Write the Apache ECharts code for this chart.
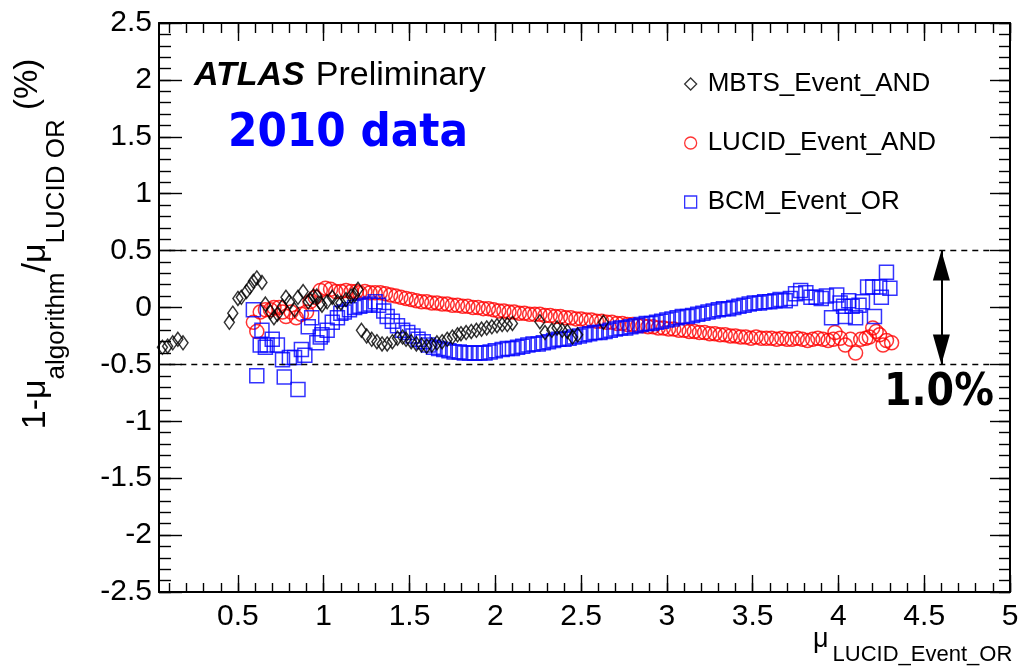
<!DOCTYPE html>
<html><head><meta charset="utf-8">
<script src="https://cdn.jsdelivr.net/npm/echarts@6/dist/echarts.min.js"></script>
<style>html,body{margin:0;padding:0;background:#fff}#c{width:1022px;height:667px}</style>
</head><body><div id="c"></div>
<script>
// ---------- axis ticks ----------
const xMajorTicks = [0.5,1,1.5,2,2.5,3,3.5,4,4.5,5];
const xMinorTicks = [0.1,0.2,0.3,0.4,0.5,0.6,0.7,0.8,0.9,1.0,1.1,1.2,1.3,1.4,1.5,1.6,1.7,1.8,1.9,2.0,2.1,2.2,2.3,2.4,2.5,2.6,2.7,2.8,2.9,3.0,3.1,3.2,3.3,3.4,3.5,3.6,3.7,3.8,3.9,4.0,4.1,4.2,4.3,4.4,4.5,4.6,4.7,4.8,4.9,5.0];
const yMajorTicks = [-2.5,-2,-1.5,-1,-0.5,0,0.5,1,1.5,2,2.5];
const yMinorTicks = [-2.5,-2.4,-2.3,-2.2,-2.1,-2.0,-1.9,-1.8,-1.7,-1.6,-1.5,-1.4,-1.3,-1.2,-1.1,-1.0,-0.9,-0.8,-0.7,-0.6,-0.5,-0.4,-0.3,-0.2,-0.1,0,0.1,0.2,0.3,0.4,0.5,0.6,0.7,0.8,0.9,1.0,1.1,1.2,1.3,1.4,1.5,1.6,1.7,1.8,1.9,2.0,2.1,2.2,2.3,2.4,2.5];
const xRange = [0.04, 5];
const yRange = [-2.5, 2.5];
const bandLevels = [0.5, -0.5];
const bandSpan = [0.1, 4.88];
const arrowX = 4.6;

// ---------- series ----------
const seriesNames = ['MBTS_Event_AND','LUCID_Event_AND','BCM_Event_OR'];

const mbtsX = [0.06,0.09,0.12,0.15,0.18,
  0.45,0.47,0.50,0.52,0.55,0.57,0.59,0.61,0.64,
  0.66,0.69,0.71,0.73,0.76,0.78,0.80,0.83,0.85,0.88,0.91,0.92,0.94,0.96,0.98,0.99,1.02,1.05,1.08,1.10,1.13,1.16,1.18,1.20,
  1.22,1.25,1.28,1.31,1.34,1.37,1.40,1.43,1.46,1.48,1.51,1.54,1.57,1.60,1.63,1.66,1.69,1.72,1.75,1.78,1.80,1.83,1.86,1.89,1.92,1.95,1.98,2.01,2.04,2.07,2.10,
  2.26,2.29,2.33,2.36,2.39,2.42,2.45,2.48,2.63];
const mbtsY = [-0.35,-0.34,-0.31,-0.28,-0.31,
  -0.13,-0.05,0.08,0.09,0.14,0.18,0.23,0.26,0.22,
  0.03,-0.04,-0.09,-0.06,0.01,0.09,0.05,-0.02,0.09,0.14,0.05,0.07,0.10,0.10,0.04,0.02,0.05,0.09,0.05,0.04,0.07,0.10,0.11,0.16,
  -0.20,-0.25,-0.28,-0.30,-0.32,-0.32,-0.30,-0.27,-0.26,-0.28,-0.30,-0.32,-0.33,-0.34,-0.33,-0.31,-0.30,-0.28,-0.26,-0.24,-0.23,-0.22,-0.21,-0.20,-0.19,-0.18,-0.17,-0.16,-0.15,-0.15,-0.14,
  -0.125,-0.22,-0.20,-0.18,-0.20,-0.21,-0.26,-0.24,-0.13];

const lucidX = [0.59,0.61,0.63,0.66,0.69,0.71,0.74,0.76,0.78,0.81,0.84,0.87,0.90,0.92,0.95,0.98,1.01,1.04,1.07,1.10,1.13,1.16,1.19,1.21,
  1.24,1.27,1.30,1.33,1.36,1.39,1.42,1.45,1.48,1.51,1.54,1.57,1.60,1.63,1.66,1.69,1.72,1.75,1.78,1.81,1.84,1.87,1.90,1.93,1.96,1.99,
  2.02,2.05,2.08,2.11,2.14,2.17,2.20,2.23,2.26,2.29,2.32,2.35,2.38,2.41,2.44,2.47,2.50,2.53,2.56,2.59,2.62,2.65,2.68,2.71,2.74,2.77,2.80,2.83,2.86,2.89,2.92,2.95,2.98,
  3.01,3.04,3.07,3.10,3.13,3.16,3.19,3.22,3.25,3.28,3.31,3.34,3.37,3.40,3.43,3.46,3.49,3.52,3.55,3.58,3.61,3.64,3.67,3.70,3.73,3.76,3.79,3.82,3.85,3.88,3.91,3.94,3.97,
  3.98,4.01,4.04,4.07,4.10,4.13,4.16,4.18,4.20,4.22,4.24,4.26,4.28,4.31];
const lucidY = [-0.13,-0.21,-0.04,-0.02,-0.02,0.00,0.00,-0.04,-0.08,-0.04,-0.09,-0.06,-0.04,0.05,0.09,0.15,0.17,0.16,0.14,0.14,0.15,0.14,0.14,0.13,
  0.14,0.13,0.13,0.13,0.12,0.11,0.10,0.09,0.08,0.07,0.06,0.05,0.05,0.04,0.04,0.03,0.03,0.02,0.02,0.01,0.01,0.00,0.00,-0.01,-0.01,-0.02,
  -0.03,-0.03,-0.04,-0.04,-0.05,-0.05,-0.06,-0.06,-0.06,-0.07,-0.07,-0.08,-0.08,-0.09,-0.09,-0.10,-0.10,-0.11,-0.11,-0.12,-0.12,-0.13,-0.13,-0.14,-0.14,-0.15,-0.15,-0.16,-0.16,-0.17,-0.17,-0.18,-0.18,
  -0.19,-0.19,-0.20,-0.20,-0.21,-0.21,-0.22,-0.22,-0.23,-0.23,-0.24,-0.24,-0.25,-0.25,-0.26,-0.26,-0.27,-0.26,-0.27,-0.27,-0.27,-0.28,-0.27,-0.28,-0.28,-0.27,-0.28,-0.29,-0.28,-0.27,-0.28,-0.29,-0.28,
  -0.22,-0.27,-0.33,-0.28,-0.40,-0.28,-0.27,-0.26,-0.18,-0.21,-0.24,-0.33,-0.29,-0.31];

const bcmX = [0.59,0.61,0.63,0.64,0.66,0.67,0.70,0.73,0.76,0.77,0.80,0.83,0.85,0.87,0.89,0.91,0.93,0.96,0.98,0.99,
  1.02,1.05,1.08,1.10,1.12,1.15,1.18,1.21,1.24,1.27,1.30,1.32,1.35,1.37,1.40,1.43,1.46,1.49,1.52,1.55,1.58,1.61,1.64,1.67,1.70,1.73,1.76,1.79,1.82,1.85,1.88,1.91,1.94,1.97,2.00,
  2.04,2.07,2.10,2.13,2.16,2.19,2.22,2.25,2.28,2.31,2.34,2.37,2.40,2.43,2.46,2.49,2.52,2.55,2.58,2.61,2.64,2.67,2.70,2.73,2.76,2.79,2.82,2.85,2.88,2.91,2.94,2.97,
  3.00,3.03,3.06,3.09,3.12,3.15,3.18,3.21,3.24,3.27,3.30,3.33,3.36,3.39,3.42,3.45,3.48,3.51,3.54,3.57,3.60,3.63,3.66,3.69,3.72,3.75,3.78,3.81,3.84,3.87,3.90,3.93,
  3.96,3.99,4.01,4.03,4.04,4.06,4.08,4.10,4.12,4.14,4.17,4.20,4.21,4.24,4.25,4.28,4.30];
const bcmY = [-0.02,-0.60,-0.33,-0.20,-0.35,-0.33,-0.28,-0.33,-0.46,-0.61,-0.44,-0.44,-0.72,-0.37,-0.42,-0.17,-0.09,-0.31,-0.26,-0.24,
  -0.20,-0.13,-0.09,-0.05,-0.04,-0.02,0.00,0.01,0.02,0.03,0.05,0.02,-0.03,-0.08,-0.12,-0.16,-0.20,-0.22,-0.25,-0.28,-0.30,-0.33,-0.35,-0.36,-0.37,-0.38,-0.39,-0.39,-0.40,-0.40,-0.40,-0.40,-0.40,-0.39,-0.38,
  -0.37,-0.36,-0.36,-0.35,-0.34,-0.33,-0.32,-0.32,-0.31,-0.30,-0.29,-0.28,-0.28,-0.27,-0.26,-0.25,-0.24,-0.23,-0.22,-0.22,-0.21,-0.20,-0.19,-0.18,-0.18,-0.17,-0.16,-0.15,-0.14,-0.14,-0.13,-0.12,
  -0.11,-0.10,-0.09,-0.08,-0.08,-0.07,-0.06,-0.05,-0.04,-0.03,-0.02,-0.01,-0.01,0.00,0.01,0.02,0.03,0.04,0.04,0.05,0.05,0.06,0.07,0.06,0.08,0.12,0.15,0.13,0.09,0.09,0.08,0.10,
  -0.09,0.11,0.04,0.01,-0.08,0.06,0.01,-0.09,0.02,0.05,0.18,0.18,-0.08,0.18,0.09,0.31,0.17];

function pairs(xs, ys) { const n = Math.min(xs.length, ys.length); const out = []; for (let i = 0; i < n; i++) out.push([xs[i], ys[i]]); return out; }

const FONT = "'Liberation Sans', Arial, Helvetica, sans-serif";

function xAxisDef(pos, ticks, len, labels, line) {
  return {
    type: 'value', position: pos, min: xRange[0], max: xRange[1],
    axisLine: { show: line, onZero: false, lineStyle: { color: '#000', width: 2 } },
    axisTick: { show: true, inside: true, length: len, customValues: ticks, lineStyle: { color: '#000', width: 1.4 } },
    axisLabel: labels ? { show: true, customValues: ticks, color: '#000', fontSize: 30, fontFamily: FONT, margin: 10 } : { show: false },
    splitLine: { show: false }
  };
}
function yAxisDef(pos, ticks, len, labels, line) {
  return {
    type: 'value', position: pos, min: yRange[0], max: yRange[1],
    axisLine: { show: line, onZero: false, lineStyle: { color: '#000', width: 2 } },
    axisTick: { show: true, inside: true, length: len, customValues: ticks, lineStyle: { color: '#000', width: 1.4 } },
    axisLabel: labels ? { show: true, customValues: ticks, color: '#000', fontSize: 30, fontFamily: FONT, margin: 7 } : { show: false },
    splitLine: { show: false }
  };
}

const chart = echarts.init(document.getElementById('c'), null, { renderer: 'canvas' });
const hollow = (c, w) => ({ color: 'rgba(0,0,0,0)', borderColor: c, borderWidth: w || 1.5 });

chart.setOption({
  animation: false,
  backgroundColor: '#fff',
  grid: { left: 159, right: 12, top: 23, bottom: 75, containLabel: false },
  xAxis: [
    xAxisDef('bottom', xMajorTicks, 17, true, true),
    xAxisDef('bottom', xMinorTicks, 9, false, false),
    xAxisDef('top', xMajorTicks, 18, false, true),
    xAxisDef('top', xMinorTicks, 10, false, false)
  ],
  yAxis: [
    yAxisDef('left', yMajorTicks, 23, true, true),
    yAxisDef('left', yMinorTicks, 12, false, false),
    yAxisDef('right', yMajorTicks, 20, false, true),
    yAxisDef('right', yMinorTicks, 11, false, false)
  ],
  legend: {
    orient: 'vertical', left: 679, top: 64, itemGap: 29, itemWidth: 12, itemHeight: 12,
    data: [
      { name: seriesNames[0], icon: 'diamond', itemStyle: hollow('#000', 1.3) },
      { name: seriesNames[1], icon: 'circle', itemStyle: hollow('#ff0000', 1.3) },
      { name: seriesNames[2], icon: 'rect', itemStyle: hollow('#0000ff', 1.3) }
    ],
    textStyle: { fontSize: 26, fontFamily: FONT, color: '#000', lineHeight: 30, padding: [0, 0, 0, 6] },
    selectedMode: false
  },
  series: [
    { name: seriesNames[1], type: 'scatter', data: pairs(lucidX, lucidY), symbol: 'circle', symbolSize: 14, itemStyle: hollow('#ff0000'), silent: true },
    { name: seriesNames[2], type: 'scatter', data: pairs(bcmX, bcmY), symbol: 'rect', symbolSize: 14, itemStyle: hollow('#0000ff'), silent: true },
    { name: seriesNames[0], type: 'scatter', data: pairs(mbtsX, mbtsY), symbol: 'diamond', symbolSize: [10, 14], itemStyle: hollow('#000'), silent: true },
    {
      name: 'guides', type: 'line', data: [], silent: true,
      markLine: {
        silent: true, symbol: ['none', 'none'], label: { show: false },
        lineStyle: { color: '#000', type: [6, 5], width: 1.3 },
        data: [
          [{ coord: [bandSpan[0], bandLevels[0]] }, { coord: [bandSpan[1], bandLevels[0]] }],
          [{ coord: [bandSpan[0], bandLevels[1]] }, { coord: [bandSpan[1], bandLevels[1]] }],
          [{ coord: [arrowX, bandLevels[0]], lineStyle: { type: 'solid', width: 2 } }, { coord: [arrowX, bandLevels[1]], lineStyle: { type: 'solid', width: 2 } }]
        ]
      },
      markPoint: {
        silent: true, symbol: 'triangle', symbolSize: [17, 30], label: { show: false },
        itemStyle: { color: '#000' },
        data: [
          { coord: [arrowX, 0.37], symbolRotate: 0 },
          { coord: [arrowX, -0.37], symbolRotate: 180 }
        ]
      }
    }
  ],
  graphic: [
    { type: 'text', left: 194, top: 59, style: {
        text: '{b|ATLAS}{r|Preliminary}',
        rich: { b: { fontSize: 34, fontWeight: 'bold', fontStyle: 'italic', fontFamily: FONT, fill: '#000' },
                r: { fontSize: 34, fontFamily: FONT, fill: '#000', padding: [0, 0, 0, 11] } } } },
    { type: 'text', left: 228, top: 110, style: { text: '2010 data', fontSize: 47, fontWeight: 'bold', fontFamily: "'DejaVu Sans Condensed', 'DejaVu Sans', sans-serif", fill: '#0000ff' } },
    { type: 'text', left: 884, top: 372, style: { text: '1.0%', fontSize: 44, fontWeight: 'bold', fontFamily: "'DejaVu Sans Condensed', 'DejaVu Sans', sans-serif", fill: '#000' } },
    { type: 'text', left: 813, top: 626, style: {
        text: '{m|μ}{s|LUCID_Event_OR}',
        rich: { m: { fontSize: 27, fontFamily: FONT, fill: '#000', lineHeight: 28, verticalAlign: 'top' },
                s: { fontSize: 22, fontFamily: FONT, fill: '#000', lineHeight: 22, padding: [18, 0, 0, 4], verticalAlign: 'top' } } } },
    { type: 'text', x: 28, y: 244, rotation: Math.PI / 2, style: {
        text: '{m|1-μ}{s|algorithm}{m|/μ}{s|LUCID OR}{p| (%)}',
        align: 'center', verticalAlign: 'middle',
        rich: { m: { fontSize: 34, fontFamily: FONT, fill: '#000', lineHeight: 34, padding: [8, 0, 0, 0], verticalAlign: 'top' },
                s: { fontSize: 26, fontFamily: FONT, fill: '#000', lineHeight: 26, padding: [33, 0, 0, 0], verticalAlign: 'top' },
                p: { fontSize: 33, fontFamily: FONT, fill: '#000', lineHeight: 33, padding: [0, 0, 0, 0], verticalAlign: 'top' } } } }
  ]
});
</script></body></html>
